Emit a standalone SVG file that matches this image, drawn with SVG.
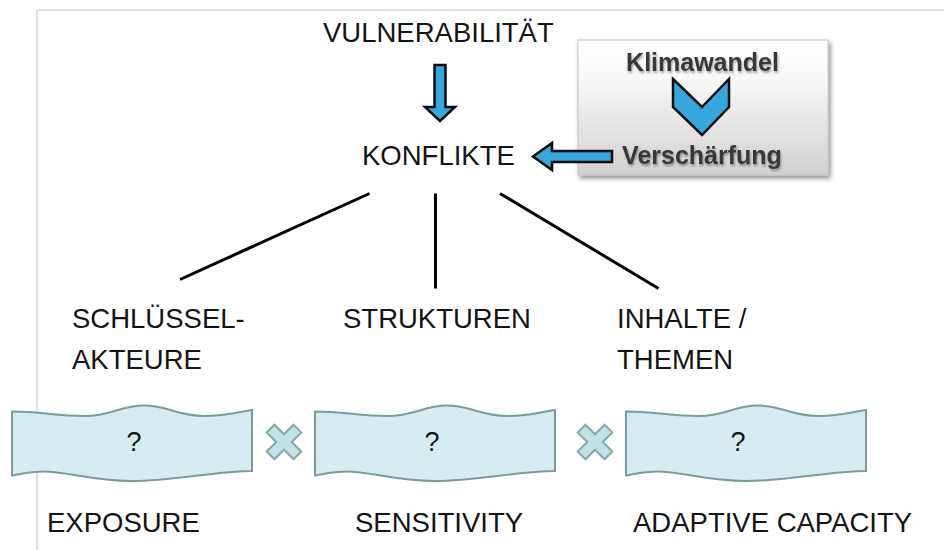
<svg xmlns="http://www.w3.org/2000/svg" width="944" height="550" viewBox="0 0 944 550">
<defs>
<style>
.t{font-family:"Liberation Sans",Arial,sans-serif;font-size:27.5px;fill:#141414;}
.b{font-family:"Liberation Sans",Arial,sans-serif;font-size:25px;font-weight:bold;fill:#383838;text-anchor:middle;}
.q{font-family:"Liberation Sans",Arial,sans-serif;font-size:27px;fill:#141414;text-anchor:middle;}
.wave{fill:#d6ebef;stroke:#7d9b9d;stroke-width:2;}
.x{fill:#c2e1e5;stroke:#88a8ab;stroke-width:2;}
.blue{fill:#36a7dd;stroke:#0d0d0d;stroke-width:2.5;stroke-linejoin:miter;}
.ln{stroke:#000;stroke-width:3;stroke-linecap:butt;}
</style>
<linearGradient id="boxg" x1="0" y1="0" x2="0" y2="1">
<stop offset="0" stop-color="#ffffff"/>
<stop offset="0.35" stop-color="#f5f5f5"/>
<stop offset="1" stop-color="#d0d0d0"/>
</linearGradient>
<filter id="sh" x="-10%" y="-10%" width="130%" height="130%">
<feGaussianBlur in="SourceAlpha" stdDeviation="2.5"/>
<feOffset dx="2" dy="3" result="o"/>
<feComponentTransfer><feFuncA type="linear" slope="0.45"/></feComponentTransfer>
<feMerge><feMergeNode/><feMergeNode in="SourceGraphic"/></feMerge>
</filter>
<filter id="tsh" x="-10%" y="-20%" width="120%" height="150%">
<feGaussianBlur in="SourceAlpha" stdDeviation="1"/>
<feOffset dx="1" dy="1.5"/>
<feComponentTransfer><feFuncA type="linear" slope="0.35"/></feComponentTransfer>
<feMerge><feMergeNode/><feMergeNode in="SourceGraphic"/></feMerge>
</filter>
<path id="wv" d="M0,411.5 C28,411.5 45,416 72,416 C100,416 108,405.5 132,405.5 C156,405.5 165,416 192,416 C215,416 228,411.5 240,410 L240,471 C205,471 160,481 120,481 C80,481 55,471.5 32,471.5 C16,471.5 6,475 0,475.5 Z"/>
<path id="xm" d="M-5.5,-19 h11 v13.5 h13.5 v11 h-13.5 v13.5 h-11 v-13.5 h-13.5 v-11 h13.5 Z"/>
</defs>
<rect width="944" height="550" fill="#fff"/>
<g id="frame" fill="none" stroke="#cadadc" stroke-width="1.5">
<line x1="37" y1="10" x2="944" y2="10"/>
<line x1="37" y1="10" x2="37" y2="550"/>
</g>

<g id="vulnerabilitaet"><text class="t" x="323" y="42">VULNERABILITÄT</text></g>
<g id="konflikte"><text class="t" x="362" y="165">KONFLIKTE</text></g>

<g id="klimawandel">
<rect x="578" y="40" width="250" height="135" fill="url(#boxg)" stroke="#c4c4c4" stroke-width="1" filter="url(#sh)"/>
<text class="b" x="702.5" y="71" filter="url(#tsh)">Klimawandel</text>
<path class="blue" d="M673,79 L702,107 L729,79 V107 L702,135 L673,107 Z"/>
<text class="b" x="702" y="163.5" filter="url(#tsh)">Verschärfung</text>
</g>

<g id="schluesselakteure"><text class="t" x="72" y="327.5">SCHLÜSSEL-</text><text class="t" x="72" y="369">AKTEURE</text></g>
<g id="strukturen"><text class="t" x="343" y="327.5">STRUKTUREN</text></g>
<g id="inhalte"><text class="t" x="617" y="327.5">INHALTE /</text><text class="t" x="617" y="369">THEMEN</text></g>

<g id="connectors">
<path class="blue" d="M434.5,65 H445.5 V107 H455 L440,121 L425,107 H434.5 Z"/>
<path class="blue" d="M612,151 H552 V143 L533,156.5 L552,170 V162 H612 Z"/>
<line class="ln" x1="180" y1="279.5" x2="369.5" y2="193.5"/>
<line class="ln" x1="435.5" y1="193.5" x2="435.5" y2="288.5" stroke-width="5"/>
<line class="ln" x1="500" y1="193.5" x2="658.5" y2="288.5"/>
</g>

<g id="exposure">
<use href="#wv" class="wave" transform="translate(12,0)"/>
<text class="q" x="134" y="451">?</text>
<text class="t" x="47" y="532">EXPOSURE</text>
</g>
<g id="mult1"><use href="#xm" class="x" transform="translate(284,442) rotate(45)"/></g>
<g id="sensitivity">
<use href="#wv" class="wave" transform="translate(315,0)"/>
<text class="q" x="432" y="451">?</text>
<text class="t" x="355" y="532">SENSITIVITY</text>
</g>
<g id="mult2"><use href="#xm" class="x" transform="translate(595,442) rotate(45)"/></g>
<g id="adaptive">
<use href="#wv" class="wave" transform="translate(626,0)"/>
<text class="q" x="738" y="451">?</text>
<text class="t" x="633" y="532">ADAPTIVE CAPACITY</text>
</g>
</svg>
